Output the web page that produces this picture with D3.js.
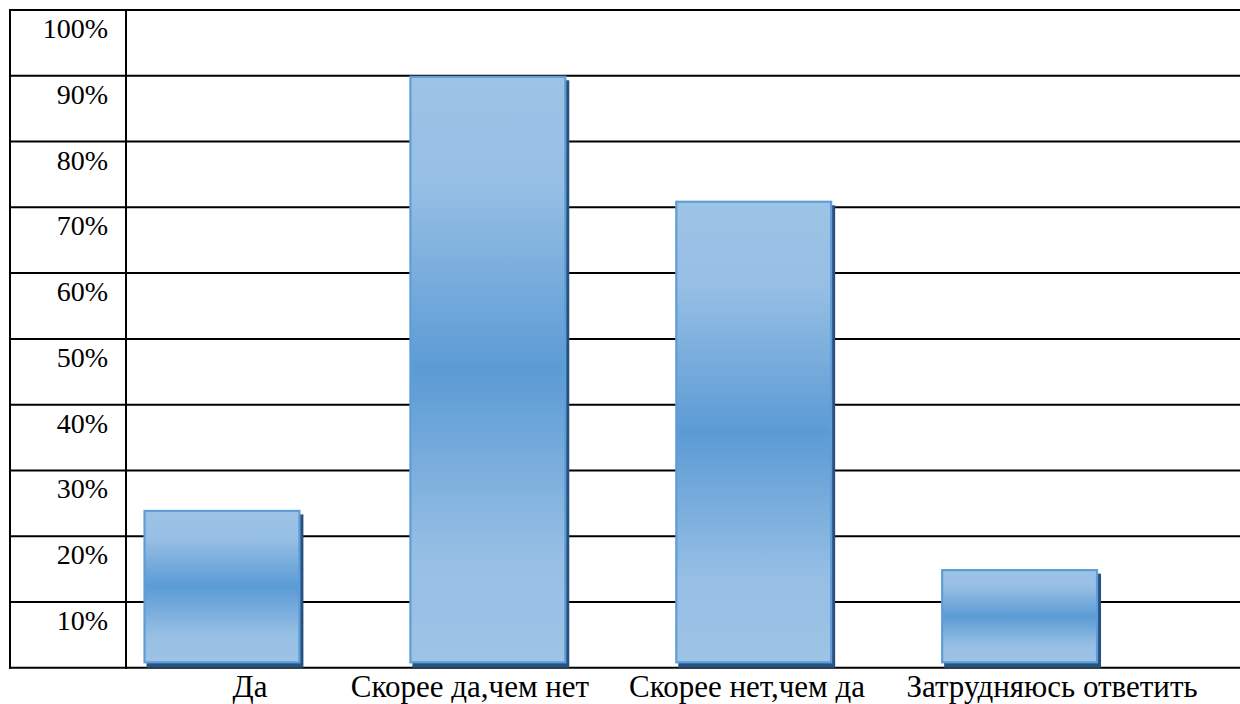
<!DOCTYPE html>
<html>
<head>
<meta charset="utf-8">
<script src="https://cdn.jsdelivr.net/npm/d3@7"></script>
<style>
  html, body { margin: 0; padding: 0; background: #fff; }
  svg { display: block; }
  text { font-family: "Liberation Serif", "Times New Roman", serif; fill: #000; }
</style>
</head>
<body>
<svg id="chart" width="1240" height="704"></svg>
<script>
// Survey answers, share of respondents (%)
const categories = ["Да", "Скорее да,чем нет", "Скорее нет,чем да", "Затрудняюсь ответить"];
const values = [24, 90, 71, 15];
const tickValues = [10, 20, 30, 40, 50, 60, 70, 80, 90, 100];
const tickLabels = ["10%", "20%", "30%", "40%", "50%", "60%", "70%", "80%", "90%", "100%"];

const W = 1240, H = 704;
const gridLeft = 10, divider = 126, gridTop = 10, gridBottom = 667.8, gridRight = W;

const svg = d3.select("#chart");

const y = d3.scaleLinear().domain([0, 100]).range([gridBottom, gridTop]);
const x = d3.scaleBand()
  .domain(categories)
  .range([divider, gridRight])
  .paddingInner(0.41)
  .paddingOuter(0.3)
  .align(0.11);
// the caption line below the table is typed as a separate run of text
const xLabel = d3.scaleOrdinal()
  .domain(categories)
  .range([250, 470, 747, 1052]);

// vertical gradient: light edges, deeper blue through the middle
const defs = svg.append("defs");
const grad = defs.append("linearGradient")
  .attr("id", "barFill").attr("x1", 0).attr("y1", 0).attr("x2", 0).attr("y2", 1);
[[0, "#9dc3e6"], [0.18, "#97bfe4"], [0.5, "#5b9bd5"], [0.82, "#97bfe4"], [1, "#9dc3e6"]]
  .forEach(([o, c]) => grad.append("stop").attr("offset", o).attr("stop-color", c));

// table grid: one row per 10%
const grid = svg.append("g").attr("stroke", "#000").attr("stroke-width", 2);
grid.selectAll("line.h")
  .data([0].concat(tickValues))
  .join("line")
  .attr("class", "h")
  .attr("x1", gridLeft - 1).attr("x2", gridRight)
  .attr("y1", d => y(d)).attr("y2", d => y(d));
grid.append("line").attr("x1", gridLeft).attr("x2", gridLeft).attr("y1", y(100) - 1).attr("y2", y(0) + 1);
grid.append("line").attr("x1", divider).attr("x2", divider).attr("y1", y(100) - 1).attr("y2", y(0) + 1);

// row labels sit at the top of each row
svg.append("g").selectAll("text")
  .data(tickValues)
  .join("text")
  .attr("x", 108)
  .attr("y", d => y(d) + 28)
  .attr("text-anchor", "end")
  .attr("font-size", 28)
  .text((d, i) => tickLabels[i]);

// bars with a dark drop shadow
const shadowDx = 3, shadowDy = 4.5;
const bars = svg.append("g");
bars.selectAll("rect.shadow")
  .data(values)
  .join("rect")
  .attr("class", "shadow")
  .attr("x", (d, i) => x(categories[i]) + shadowDx)
  .attr("y", d => y(d) + shadowDy)
  .attr("width", x.bandwidth())
  .attr("height", d => y(0) - y(d) - shadowDy)
  .attr("fill", "#27527f");
bars.selectAll("rect.bar")
  .data(values)
  .join("rect")
  .attr("class", "bar")
  .attr("x", (d, i) => x(categories[i]) + 1)
  .attr("y", d => y(d) + 1)
  .attr("width", x.bandwidth() - 2)
  .attr("height", d => y(0) - y(d) - shadowDy - 2)
  .attr("fill", "url(#barFill)")
  .attr("stroke", "#5f9dd6")
  .attr("stroke-width", 2.2);

// category labels under the table
svg.append("g").selectAll("text")
  .data(categories)
  .join("text")
  .attr("x", d => xLabel(d))
  .attr("y", 697)
  .attr("text-anchor", "middle")
  .attr("font-size", 31)
  .text(d => d);
</script>
</body>
</html>
